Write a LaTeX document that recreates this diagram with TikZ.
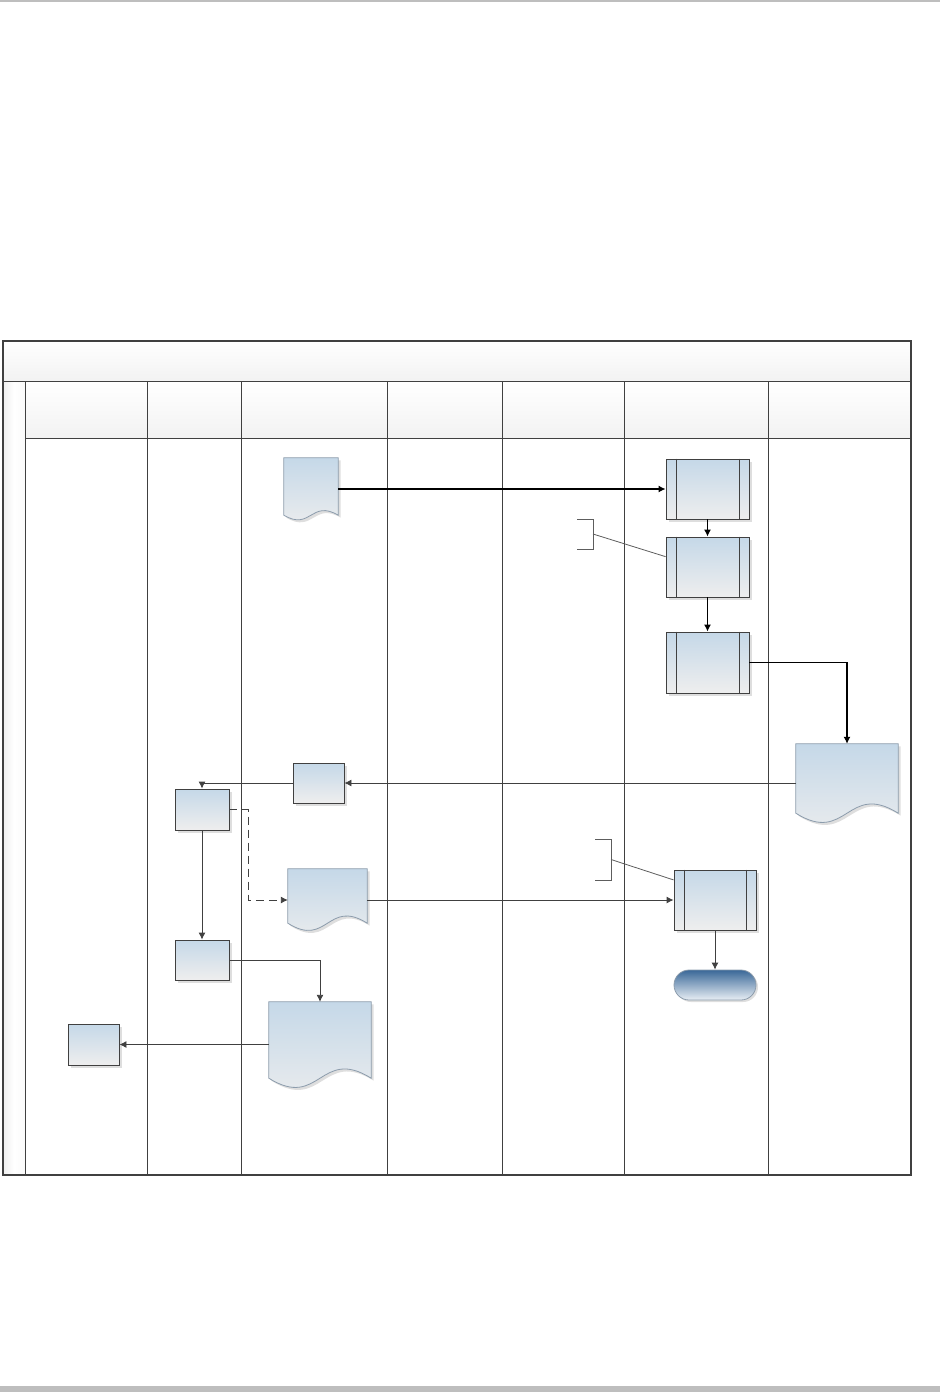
\documentclass[tikz,border=0pt]{standalone}
\usepackage{xcolor}
\usetikzlibrary{arrows.meta, calc, shadows, math}
\definecolor{boxtop}{RGB}{197, 216, 232}
\definecolor{boxbot}{RGB}{238, 238, 238}
\definecolor{framegray}{RGB}{64, 64, 64}
\definecolor{docedge}{RGB}{140, 156, 172}
\definecolor{termtop}{RGB}{58, 104, 152}
\definecolor{termbot}{RGB}{232, 238, 244}
\definecolor{shadowgray}{RGB}{222, 222, 222}
\definecolor{pagegray}{RGB}{190, 190, 190}

% document shape with wavy bottom, drawn from the anchors of a plain node
\newcommand{\docshape}[2]{%
\fill[shadowgray, transform canvas={shift={(2.5pt,-2.5pt)}}] (#1.north west) -- (#1.north east) -- (#1.south east)
  .. controls ($(#1.south)+(0,#2)$) and ($(#1.south)+(0,-#2)$) .. (#1.south west) -- cycle;
\draw[docedge, line width=0.8pt, top color=boxtop, bottom color=boxbot] (#1.north west) -- (#1.north east) -- (#1.south east)
  .. controls ($(#1.south)+(0,#2)$) and ($(#1.south)+(0,-#2)$) .. (#1.south west) -- cycle;
}

\begin{document}
\begin{tikzpicture}[x=1pt, y=1pt,
  lane/.style={draw=framegray, line width=0.9pt},
  task/.style 2 args={draw=framegray, line width=0.9pt, top color=boxtop, bottom color=boxbot,
    minimum width=#1pt, minimum height=#2pt, inner sep=0pt,
    drop shadow={shadow xshift=2.5pt, shadow yshift=-2.5pt, fill=shadowgray, opacity=1}},
  doc/.style 2 args={minimum width=#1pt, minimum height=#2pt, inner sep=0pt},
  term/.style={draw=docedge, line width=0.8pt, top color=termtop, bottom color=termbot,
    rounded corners=15pt, minimum width=82pt, minimum height=30pt, inner sep=0pt,
    drop shadow={shadow xshift=2pt, shadow yshift=-2pt, fill=shadowgray, opacity=1}},
  flow/.style={-{Latex[length=7pt,width=7pt]}, line width=1.2pt, black},
  link/.style={-{Latex[length=7pt,width=7pt]}, line width=0.9pt, framegray},
  note/.style={line width=0.8pt, framegray!85}]
\tikzmath{
\xl=3;
\xs=25;
\xr=911;
\ytitle=341;
\yhead=381;
\ybody=438;
\ybot=1175;
}
\useasboundingbox (0,0) rectangle (940,-1392);
\fill[pagegray] (0,0) rectangle (940,-1.5);
\fill[pagegray] (0,-1386) rectangle (940,-1392);

%%%%%%%%%%   pool and lanes
\shade[top color=white, bottom color=gray!10] (\xl,-\ytitle) rectangle (\xr,-\yhead);
\shade[top color=white, bottom color=gray!10] (\xs,-\yhead) rectangle (\xr,-\ybody);
\shade[left color=gray!12, right color=gray!4, middle color=white] (\xl,-\yhead) rectangle (\xs,-\ybot);
\draw[lane] (\xl,-\yhead) -- (\xr,-\yhead);
\draw[lane] (\xs,-\ybody) -- (\xr,-\ybody);
\foreach \x in {25,147,241,387,502,624,768}
  \draw[lane] (\x,-\yhead) -- (\x,-\ybot);
\draw[lane, line width=1.3pt] (\xl,-\ytitle) rectangle (\xr,-\ybot);

%%%%%%%%%%   shapes
\node[doc={54}{57}] (formdoc) at (311,-486.5) {};
\docshape{formdoc}{16}
\node[task={83}{60}] (subA) at (707.5,-489) {};
\node[task={83}{60}] (subB) at (707.5,-567) {};
\node[task={83}{61}] (subC) at (707.5,-662.5) {};
\node[doc={102}{69}] (reportdoc) at (847,-778.5) {};
\docshape{reportdoc}{32}
\node[task={51}{40}] (stepA) at (318.5,-783) {};
\node[task={54}{41}] (stepB) at (202,-809.5) {};
\node[doc={79}{54}] (copydoc) at (327.5,-896) {};
\docshape{copydoc}{25}
\node[task={54}{40}] (stepC) at (202,-960) {};
\node[doc={102}{76}] (listdoc) at (320,-1040) {};
\docshape{listdoc}{32}
\node[task={51}{41}] (stepD) at (93.5,-1044.5) {};
\node[task={82}{60}] (subD) at (715,-900) {};
\node[term] (endterm) at (715,-985) {};

\foreach \p in {subA,subB,subC,subD}
  \draw[framegray, line width=0.9pt] ([xshift=11pt]\p.north west) -- ([xshift=11pt]\p.south west)
    ([xshift=-10pt]\p.north east) -- ([xshift=-10pt]\p.south east);

% annotations
\coordinate (noteA) at (593,-534);
\coordinate (noteB) at (611,-859.5);
\draw[note] ([shift={(-16,15)}]noteA) -| ([yshift=-15pt]noteA) -- ++(-16,0);
\draw[note] ([shift={(-16,20.5)}]noteB) -| ([yshift=-20.5pt]noteB) -- ++(-16,0);
\draw[note] (noteA) -- ($(subB.north west)!0.33!(subB.south west)$);
\draw[note] (noteB) -- ($(subD.north west)!0.17!(subD.south west)$);

%%%%%%%%%%   connectors
\draw[flow] (formdoc.east |- subA.west) -- (subA.west);
\draw[flow] (subA.south) -- (subB.north);
\draw[flow] (subB.south) -- (subC.north);
\draw[flow] (subC.east) -| (reportdoc.north);
\draw[link] (reportdoc.west |- stepA.east) -- (stepA.east);
\draw[link] (stepA.west) -| (stepB.north);
\draw[link, dash pattern=on 8pt off 5pt] (stepB.east) -- ++(19,0) |- (copydoc.west |- subD.west);
\draw[link] (stepB.south) -- (stepC.north);
\draw[link] (stepC.east) -| (listdoc.north);
\draw[link] (listdoc.west |- stepD.east) -- (stepD.east);
\draw[link] (copydoc.east |- subD.west) -- (subD.west);
\draw[link] (subD.south) -- (endterm.north);
\end{tikzpicture}
\end{document}
